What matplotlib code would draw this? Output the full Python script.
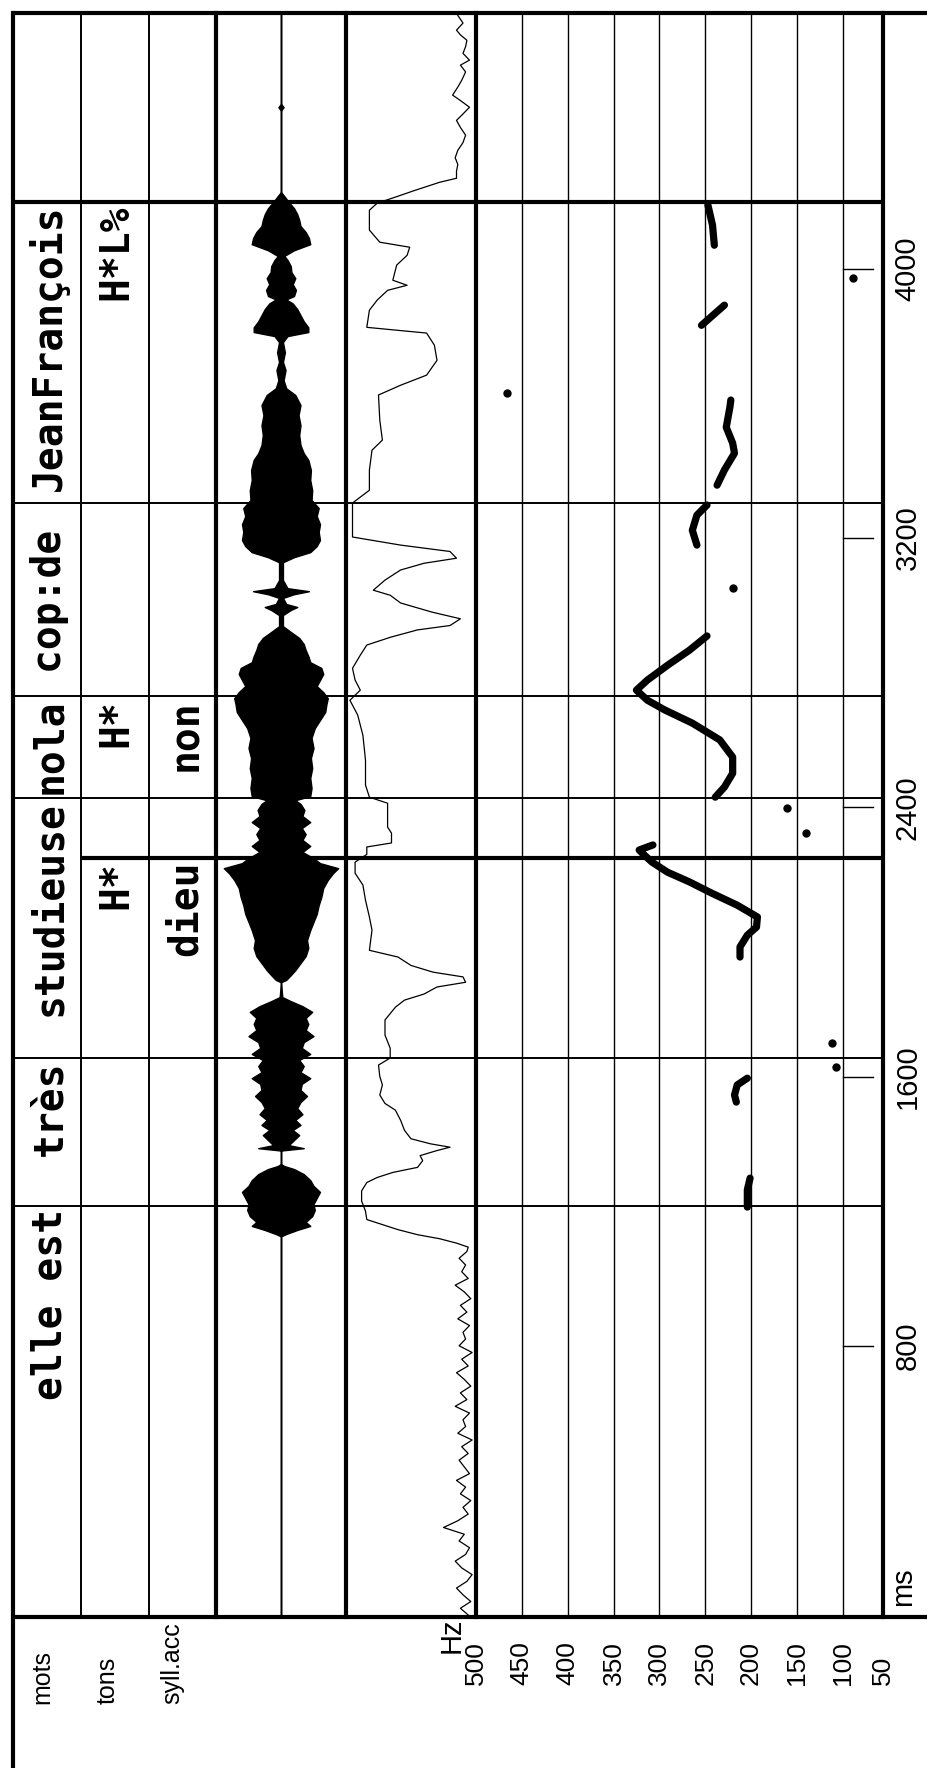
import matplotlib
matplotlib.use("Agg")
import matplotlib.pyplot as plt
import numpy as np

W, H = 928, 1768
T_MAX = 4760          # ms at the top edge of the chart (0 ms at the bottom line)

# ---------------- annotation tiers ----------------
words = ["elle est", "très", "studieuse", "nola", "cop:de ", "JeanFrançois"]
word_bounds = [0, 1215, 1655, 2427, 2730, 3304, 4198]      # ms
tones = ["H*", "H*", "H*L%"]
tone_ends = [2249, 2730, 4198]
sylls = ["dieu", "non"]
syll_ends = [2249, 2730]
heavy_bounds = [2249, 4198]

# ---------------- F0 (Hz), voiced stretches ----------------
f0_t1 = [1212, 1263, 1298]
f0_hz1 = [204, 204, 201]
f0_t2 = [1524, 1545, 1575, 1595]
f0_hz2 = [216, 218, 215, 204]
f0_t3 = [1955, 1985, 2020, 2044, 2074, 2109, 2145, 2178, 2207, 2237, 2262, 2273, 2288]
f0_hz3 = [212, 212, 204, 194, 193, 215, 243, 267, 291, 308, 318, 322, 307]
f0_t4 = [2430, 2460, 2501, 2549, 2600, 2650, 2689, 2718, 2748, 2778, 2822, 2867, 2909]
f0_hz4 = [239, 229, 220, 220, 234, 264, 294, 313, 325, 313, 291, 267, 248]
f0_t5 = [3179, 3223, 3268, 3298]
f0_hz5 = [259, 264, 259, 248]
f0_t6 = [3357, 3402, 3452, 3482, 3529, 3589, 3610]
f0_hz6 = [237, 229, 218, 220, 227, 223, 222]
f0_t7 = [3832, 3892]
f0_hz7 = [254, 229]
f0_t8 = [4070, 4130, 4189]
f0_hz8 = [240, 242, 247]
dots_t = [1628, 1699, 2323, 2398, 3051, 3630, 3972]
dots_hz = [107, 112, 140, 161, 220, 466, 89]

# ---------------- energy curve (% of panel width, 0 = right edge) ----------------
noise_lo_t = list(range(0, 1090, 20))
noise_lo = [6, 12, 4, 10, 15, 7, 3, 11, 16, 8, 5, 13, 9, 25, 14, 6, 10, 4, 12, 8,
            15, 5, 9, 13, 6, 11, 3, 14, 8, 10, 5, 16, 7, 12, 4, 9, 15, 6, 11, 3,
            13, 8, 10, 5, 14, 7, 12, 4, 9, 16, 6, 11, 8, 13, 7]
main_t = [1093, 1105, 1118, 1130, 1145, 1160, 1175, 1200, 1230, 1260, 1285, 1300, 1315,
          1330, 1350, 1365, 1380, 1390, 1400, 1415, 1440, 1470, 1500, 1520, 1545, 1575,
          1600, 1634, 1655, 1684, 1723, 1768, 1806, 1827, 1845, 1866, 1880, 1896, 1910,
          1930, 1955, 1975, 2035, 2074, 2124, 2169, 2204, 2237, 2260, 2282, 2294, 2323,
          2341, 2377, 2412, 2430, 2466, 2540, 2614, 2674, 2718, 2748, 2778, 2813, 2852,
          2882, 2905, 2927, 2940, 2960, 2980, 3007, 3030, 3045, 3075, 3105, 3125, 3140,
          3160, 3179, 3203, 3253, 3304, 3342, 3402, 3461, 3491, 3550, 3625, 3654, 3684,
          3728, 3773, 3809, 3826, 3877, 3907, 3936, 3951, 3966, 4011, 4040, 4064, 4079,
          4115, 4174, 4195, 4213, 4233, 4257, 4269]
main_e = [6, 15, 28, 45, 60, 72, 84, 85, 88, 88, 84, 76, 64,
          45, 41, 43, 30, 20, 35, 50, 55, 58, 62, 70, 74, 72,
          74, 75, 66, 66, 70, 70, 62, 55, 40, 30, 8, 10, 33,
          50, 60, 82, 80, 82, 85, 87, 93, 93, 84, 84, 65, 65,
          68, 68, 68, 82, 85, 85, 87, 91, 97, 89, 93, 95, 89,
          84, 66, 45, 20, 12, 34, 58, 66, 79, 70, 58, 40, 15,
          20, 58, 95, 95, 95, 82, 82, 80, 72, 74, 75, 58, 38,
          30, 32, 38, 84, 82, 76, 68, 53, 64, 61, 53, 51, 74,
          82, 82, 76, 62, 47, 28, 15]
noise_hi_t = [4290, 4310, 4330, 4352, 4375, 4397, 4420, 4441, 4460, 4480, 4500, 4516,
              4540, 4560, 4585, 4605, 4620, 4640, 4660, 4679, 4695, 4709, 4730, 4753]
noise_hi = [15, 14, 16, 14, 10, 8, 12, 15, 10, 5, 12, 18,
            14, 11, 8, 12, 5, 10, 8, 7, 12, 15, 10, 14]

# ---------------- waveform envelope (fraction of half-width) ----------------
wave_t = [0, 1125, 1132, 1144, 1156, 1168, 1185, 1203, 1221, 1239, 1257, 1275, 1292, 1310,
          1325, 1334, 1340,
          1380, 1387, 1396, 1411, 1426, 1441, 1456, 1471, 1488, 1506, 1524, 1542, 1560,
          1578, 1595, 1613, 1631, 1649, 1667, 1685, 1702, 1720, 1738, 1756, 1774, 1792,
          1809, 1824, 1836,
          1880, 1887, 1901, 1916, 1937, 1958, 1982, 2005, 2035, 2059, 2083, 2109, 2133,
          2160, 2184, 2204, 2219, 2234, 2249, 2267, 2285, 2303, 2320, 2338, 2356, 2374,
          2392, 2410, 2421, 2433, 2457, 2487, 2516, 2546, 2576, 2606, 2635, 2659, 2683,
          2707, 2724, 2742, 2760, 2778, 2796, 2814, 2831, 2849, 2867, 2885, 2903, 2921,
          2938, 2971, 2986, 2995, 3004, 3022, 3033, 3042, 3051, 3075,
          3128, 3143, 3158, 3176, 3194, 3218, 3241, 3265, 3289, 3313, 3342, 3372, 3402,
          3432, 3452, 3476, 3506, 3535, 3565, 3595, 3625, 3645, 3669, 3699, 3723, 3752,
          3782, 3800, 3812, 3826, 3844, 3862, 3880, 3897, 3909, 3919, 3937, 3954, 3972,
          3990, 4008, 4026, 4038, 4055, 4073, 4091, 4109, 4127, 4145, 4162, 4180, 4198,
          4216, 4228, 4470, 4480, 4490, T_MAX]
wave_amp = [0, 0, 0.08, 0.25, 0.45, 0.38, 0.48, 0.52, 0.5, 0.55, 0.6, 0.5, 0.45, 0.35,
            0.2, 0.05, 0,
            0, 0.35, 0.12, 0.2, 0.28, 0.18, 0.3, 0.22, 0.33, 0.25, 0.3, 0.4, 0.3,
            0.32, 0.45, 0.3, 0.35, 0.28, 0.45, 0.32, 0.35, 0.5, 0.38, 0.42, 0.38, 0.48,
            0.33, 0.15, 0.02,
            0, 0.08, 0.15, 0.22, 0.3, 0.38, 0.42, 0.4, 0.45, 0.5, 0.55, 0.58, 0.62,
            0.65, 0.72, 0.8, 0.88, 0.6, 0.5, 0.33, 0.45, 0.33, 0.38, 0.32, 0.45, 0.33,
            0.36, 0.3, 0.22, 0.45, 0.47, 0.45, 0.48, 0.46, 0.5, 0.47, 0.52, 0.6, 0.68,
            0.7, 0.72, 0.65, 0.55, 0.6, 0.65, 0.62, 0.45, 0.42, 0.38, 0.35, 0.28, 0.15,
            0.03, 0.03, 0.15, 0.25, 0.08, 0.03, 0.2, 0.43, 0.1, 0.03,
            0.03, 0.2, 0.45, 0.55, 0.6, 0.58, 0.6, 0.55, 0.58, 0.47, 0.48, 0.45, 0.46,
            0.42, 0.35, 0.3, 0.28, 0.3, 0.27, 0.3, 0.22, 0.08, 0.04, 0.07, 0.03, 0.06,
            0.03, 0.1, 0.42, 0.42, 0.35, 0.3, 0.25, 0.18, 0.08, 0.2, 0.23, 0.18, 0.22,
            0.16, 0.15, 0.1, 0.05, 0.2, 0.45, 0.43, 0.38, 0.3, 0.28, 0.25, 0.2, 0.12,
            0.05, 0, 0, 0.04, 0, 0]

hz_ticks = [500, 450, 400, 350, 300, 250, 200, 150, 100, 50]
ms_ticks = [800, 1600, 2400, 3200, 4000]

# ---------------- layout ----------------
THICK, THIN, GRID = 3.0, 1.4, 1.0
Y_TOP, Y_BOT = 13, 1615          # pixel rows of the time range
mono = dict(family="DejaVu Sans Mono", weight="bold", size=28.5)
sans = ["Liberation Sans Narrow", "Liberation Sans", "DejaVu Sans"]

fig = plt.figure(figsize=(W / 100, H / 100), dpi=100)
bg = fig.add_axes([0, 0, 1, 1])
bg.set_xlim(0, W)
bg.set_ylim(H, 0)
bg.axis("off")


def column(x0, x1):
    ax = fig.add_axes([x0 / W, (H - Y_BOT) / H, (x1 - x0) / W, (Y_BOT - Y_TOP) / H])
    ax.set_ylim(0, T_MAX)
    ax.axis("off")
    return ax


ax_mots = column(13, 81)
ax_tons = column(81, 149)
ax_syll = column(149, 216)
ax_wave = column(216, 346)
ax_en = column(346, 476)
ax_f0 = column(476, 883)
cols = [ax_mots, ax_tons, ax_syll, ax_wave, ax_en, ax_f0]

# frame
bg.plot([13, W], [Y_TOP, Y_TOP], color="k", lw=THICK, solid_capstyle="butt")
bg.plot([13, W], [1617, 1617], color="k", lw=THICK, solid_capstyle="butt")
bg.plot([13, 13], [Y_TOP, H], color="k", lw=THICK)
for x in [81, 149]:
    bg.plot([x, x], [Y_TOP, 1617], color="k", lw=THIN)
for x in [216, 346, 476, 883]:
    bg.plot([x, x], [Y_TOP, 1617], color="k", lw=THICK)

# interval boundaries
for t in word_bounds[1:]:
    for ax in cols:
        ax.axhline(t, color="k", lw=THICK if t in heavy_bounds else THIN)
for t in tone_ends:
    if t not in word_bounds:
        for ax in cols[1:]:
            ax.axhline(t, color="k", lw=THICK if t in heavy_bounds else THIN)

# tier labels (right-aligned at the end of their interval)
for lab, te in zip(words, word_bounds[1:]):
    ax_mots.text(0.71, te - 8, lab, transform=ax_mots.get_yaxis_transform(), rotation=90,
                 rotation_mode="anchor", ha="right", va="baseline", **mono)
for lab, te in zip(tones, tone_ends):
    ax_tons.text(0.68, te - 8, lab, transform=ax_tons.get_yaxis_transform(), rotation=90,
                 rotation_mode="anchor", ha="right", va="baseline", **mono)
for lab, te in zip(sylls, syll_ends):
    ax_syll.text(0.72, te - 8, lab, transform=ax_syll.get_yaxis_transform(), rotation=90,
                 rotation_mode="anchor", ha="right", va="baseline", **mono)

# waveform
ax_wave.set_xlim(-1, 1)
ax_wave.axvline(0, color="k", lw=GRID)
wa = np.array(wave_amp)
ax_wave.fill_betweenx(wave_t, -wa, wa, color="k", lw=1.0, edgecolor="k")

# energy
ax_en.set_xlim(100, 0)
ax_en.plot(noise_lo + main_e + noise_hi, noise_lo_t + main_t + noise_hi_t,
           color="k", lw=0.9)

# F0 panel
ax_f0.set_xlim(500, 56)
for hz in hz_ticks[1:-1]:
    ax_f0.axvline(hz, color="k", lw=GRID)
for t_seg, f_seg in [(f0_t1, f0_hz1), (f0_t2, f0_hz2), (f0_t3, f0_hz3), (f0_t4, f0_hz4),
                     (f0_t5, f0_hz5), (f0_t6, f0_hz6), (f0_t7, f0_hz7), (f0_t8, f0_hz8)]:
    ax_f0.plot(f_seg, t_seg, color="k", lw=5.2, solid_capstyle="round", solid_joinstyle="round")
ax_f0.plot(dots_hz, dots_t, "o", color="k", ms=5)

# time ticks and labels
for t in ms_ticks:
    ax_f0.axhline(t, xmin=0.902, xmax=0.975, color="k", lw=GRID)
    ax_f0.text(1.061, t, str(t), transform=ax_f0.get_yaxis_transform(), rotation=90,
               ha="center", va="center", family="Liberation Sans", size=21)
ax_f0.text(1.049, 83, "ms", transform=ax_f0.get_yaxis_transform(), rotation=90,
           ha="center", va="center", family="Liberation Sans", size=21)

# Hz labels, starting at the same baseline row
hz_pos = [float(h) for h in hz_ticks[:-1]] + [ax_f0.get_xlim()[1]]
y_lab = (Y_BOT - 1685) / (Y_BOT - Y_TOP)
for h, lab in zip(hz_pos, hz_ticks):
    ax_f0.text(h, y_lab, str(lab), transform=ax_f0.get_xaxis_transform(), rotation=90,
               rotation_mode="anchor", ha="left", va="center", family=sans, size=19)
bg.text(452, 1653, "Hz", rotation=90, rotation_mode="anchor", ha="left", va="center",
        family=sans, size=21)

# tier names
for lab, x in zip(["mots", "tons", "syll.acc"], [42, 108, 172]):
    bg.text(x, 1704, lab, rotation=90, rotation_mode="anchor", ha="left", va="center",
            family=sans, size=18)

fig.savefig("out.png", dpi=100)
